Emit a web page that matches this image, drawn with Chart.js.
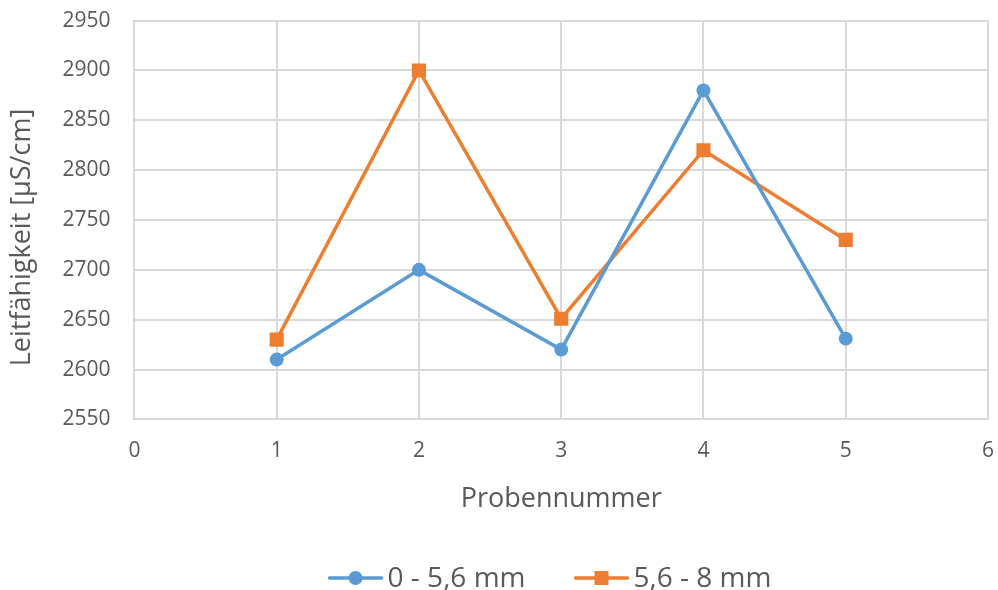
<!DOCTYPE html>
<html lang="de">
  <head>
    <meta charset="UTF-8" />
    <title>Leitfähigkeit</title>
    <script src="https://cdn.jsdelivr.net/npm/chart.js@4.4.1/dist/chart.umd.min.js"></script>
    <style>
      html, body { margin: 0; padding: 0; background: #fff; }
      #wrap { width: 998px; height: 590px; }
    </style>
  </head>
  <body>
    <div id="wrap"><canvas id="myChart"></canvas></div>
    <script>
      const proben = [1, 2, 3, 4, 5];
      const fein = [2610, 2700, 2620, 2880, 2631];
      const grob = [2630, 2900, 2651, 2820, 2730];
      const labelFein = "0 - 5,6 mm";
      const labelGrob = "5,6 - 8 mm";

      const blue = "#5B9BD5";
      const orange = "#ED7D31";
      const textColor = "#595959";
      const gridColor = "#D9D9D9";
      const font = "'Open Sans', sans-serif";

      // legend under the axis title: line with marker, then the label
      const lineLegend = {
        id: "lineLegend",
        afterDraw(chart) {
          const g = chart.ctx;
          const y = 578;
          g.save();
          g.font = "28px " + font;
          g.textBaseline = "middle";
          const items = chart.data.datasets.map((ds) => ({
            ds,
            w: g.measureText(ds.label).width
          }));
          const lineLen = 54, gapText = 5, gapItem = 49;
          const total = items.reduce((s, it) => s + lineLen + gapText + it.w, 0) + gapItem * (items.length - 1);
          let x = 550 - total / 2;
          items.forEach((it) => {
            const c = it.ds.borderColor;
            g.strokeStyle = c;
            g.lineWidth = 3.5;
            g.lineCap = "round";
            g.beginPath();
            g.moveTo(x + 1, y);
            g.lineTo(x + lineLen - 1, y);
            g.stroke();
            g.fillStyle = c;
            const mx = x + lineLen / 2;
            if (it.ds.pointStyle === "rect") {
              g.fillRect(mx - 7, y - 7, 14, 14);
            } else {
              g.beginPath();
              g.arc(mx, y, 7, 0, Math.PI * 2);
              g.fill();
            }
            g.fillStyle = textColor;
            g.fillText(it.ds.label, x + lineLen + gapText, y + 1);
            x += lineLen + gapText + it.w + gapItem;
          });
          g.restore();
        }
      };

      const ctx = document.getElementById("myChart").getContext("2d");
      const chart = new Chart(ctx, {
        type: "line",
        data: {
          datasets: [
            {
              label: labelFein,
              data: proben.map((p, i) => ({ x: p, y: fein[i] })),
              borderColor: blue,
              backgroundColor: blue,
              borderWidth: 3.5,
              pointStyle: "circle",
              pointRadius: 7,
              pointHoverRadius: 7,
              pointBorderWidth: 0,
              tension: 0
            },
            {
              label: labelGrob,
              data: proben.map((p, i) => ({ x: p, y: grob[i] })),
              borderColor: orange,
              backgroundColor: orange,
              borderWidth: 3.5,
              pointStyle: "rect",
              pointRadius: 10,
              pointHoverRadius: 10,
              pointBorderWidth: 0,
              tension: 0
            }
          ]
        },
        options: {
          responsive: true,
          maintainAspectRatio: false,
          animation: false,
          layout: { padding: { left: 6, right: 0, top: 0, bottom: 0 } },
          scales: {
            x: {
              type: "linear",
              min: 0,
              max: 6,
              ticks: {
                stepSize: 1,
                color: textColor,
                font: { family: font, size: 21 },
                padding: 0,
                callback: (v) => String(v)
              },
              grid: { color: gridColor, lineWidth: 2, tickLength: 19, tickColor: "rgba(0,0,0,0)" },
              border: { color: gridColor, width: 2 },
              title: {
                display: true,
                text: "Probennummer",
                color: textColor,
                font: { family: font, size: 27 },
                padding: { top: 20, bottom: 74 }
              }
            },
            y: {
              min: 2550,
              max: 2950,
              ticks: {
                stepSize: 50,
                color: textColor,
                font: { family: font, size: 21 },
                padding: 8,
                callback: (v) => String(v)
              },
              grid: { color: gridColor, lineWidth: 2, tickLength: 16, tickColor: "rgba(0,0,0,0)" },
              border: { color: gridColor, width: 2 },
              title: {
                display: true,
                // trailing no-break spaces move the title a little below the plot centre
                text: "Leitfähigkeit [µS/cm]\u00A0\u00A0\u00A0\u00A0\u00A0",
                color: textColor,
                font: { family: font, size: 27 },
                padding: { top: 0, bottom: 16 }
              }
            }
          },
          plugins: {
            legend: { display: false },
            tooltip: { enabled: false }
          }
        },
        plugins: [lineLegend]
      });
    </script>
  </body>
</html>
